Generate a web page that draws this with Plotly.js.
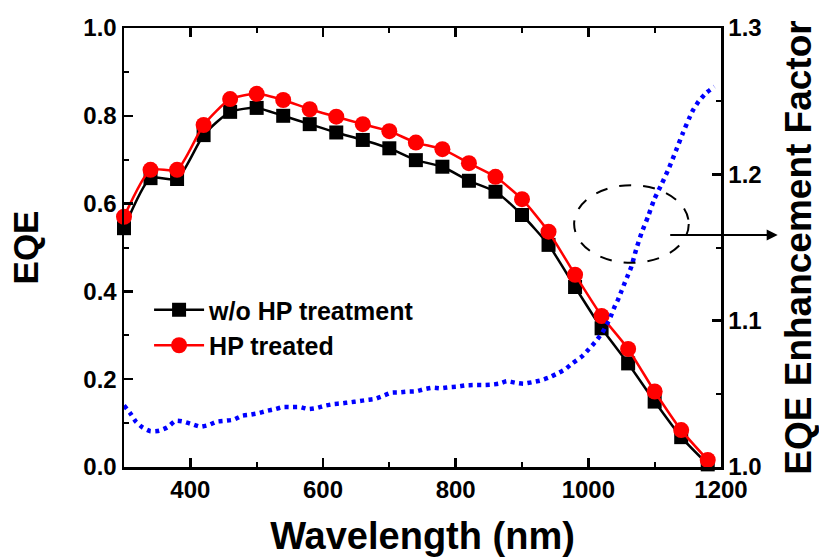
<!DOCTYPE html>
<html>
<head>
<meta charset="utf-8">
<script src="https://cdn.plot.ly/plotly-3.0.1.min.js"></script>
<style>html,body{margin:0;padding:0;background:#fff;}#chart{width:819px;height:557px;}</style>
</head>
<body>
<div id="chart"></div>
<script>
// EQE data
const wavelength = [300,340,380,420,460,500,540,580,620,660,700,740,780,820,860,900,940,980,1020,1060,1100,1140,1180];
const eqeWithout = [0.544,0.658,0.656,0.756,0.809,0.818,0.800,0.781,0.762,0.745,0.726,0.699,0.684,0.652,0.627,0.574,0.506,0.410,0.316,0.236,0.149,0.068,0.006];
const eqeTreated = [0.570,0.677,0.677,0.779,0.838,0.850,0.836,0.815,0.798,0.781,0.765,0.739,0.724,0.692,0.661,0.610,0.536,0.438,0.344,0.269,0.172,0.084,0.016];

// EQE enhancement factor (right axis)
const enhWavelength = [300,309,318,328,340,353,365,378,390,403,415,428,440,453,465,478,490,502,515,528,540,553,565,578,590,603,616,628,641,653,666,678,690,703,715,727,740,752,765,777,790,802,815,828,840,852,865,877,890,902,915,927,940,952,965,976,990,1001,1012,1021,1028,1034,1039,1045,1050,1055,1060,1065,1072,1080,1090,1099,1111,1122,1132,1142,1152,1158,1166,1177,1190];
const enhFactor = [1.042,1.037,1.031,1.027,1.0244,1.0248,1.027,1.0316,1.031,1.0292,1.0275,1.0287,1.031,1.0316,1.0323,1.035,1.0357,1.0367,1.0383,1.0396,1.041,1.041,1.041,1.0396,1.0403,1.0419,1.043,1.0435,1.0442,1.0449,1.0458,1.0465,1.0485,1.0508,1.051,1.0515,1.0517,1.0531,1.0542,1.0538,1.0545,1.0549,1.0558,1.056,1.056,1.0562,1.0569,1.0586,1.0576,1.0569,1.0579,1.059,1.061,1.0636,1.0668,1.0709,1.0754,1.0806,1.0863,1.0918,1.0975,1.1032,1.1089,1.1146,1.1203,1.126,1.1314,1.1371,1.1485,1.1597,1.1711,1.1825,1.1938,1.2048,1.2161,1.2276,1.2383,1.244,1.2497,1.2554,1.2599];

const seriesNames = ['w/o HP treatment', 'HP treated'];
const xTitle = 'Wavelength (nm)';
const yTitle = 'EQE';
const y2Title = 'EQE Enhancement Factor';

const FONT = 'Arial, "Liberation Sans", sans-serif';

const traces = [
  {
    x: wavelength, y: eqeWithout, name: seriesNames[0], type: 'scatter', mode: 'lines+markers',
    line: {color: '#000000', width: 2.5, shape: 'spline', smoothing: 0.6},
    marker: {symbol: 'square', size: 14, color: '#000000'},
    cliponaxis: false
  },
  {
    x: wavelength, y: eqeTreated, name: seriesNames[1], type: 'scatter', mode: 'lines+markers',
    line: {color: '#ff0000', width: 2.5, shape: 'spline', smoothing: 0.6},
    marker: {symbol: 'circle', size: 16, color: '#ff0000'},
    cliponaxis: false
  },
  {
    x: enhWavelength, y: enhFactor, yaxis: 'y2', type: 'scatter', mode: 'lines', showlegend: false,
    line: {color: '#0000ff', width: 4.5, dash: '4px,4.5px', shape: 'spline', smoothing: 0.5},
    hoverinfo: 'skip'
  }
];

const axisCommon = {
  showline: true, linecolor: '#000', linewidth: 2.5,
  ticks: 'inside', ticklen: 9, tickwidth: 2.5, tickcolor: '#000',
  showgrid: false, zeroline: false,
  tickfont: {family: FONT, size: 24, color: '#000', weight: 'bold'}
};

const layout = {
  width: 819, height: 557,
  margin: {l: 124, r: 98, t: 28, b: 90, pad: 0},
  paper_bgcolor: '#fff', plot_bgcolor: '#fff',
  showlegend: true,
  legend: {
    x: 0.042, y: 0.41, xanchor: 'left', yanchor: 'top',
    bgcolor: 'rgba(0,0,0,0)', borderwidth: 0,
    font: {family: FONT, size: 25, color: '#000', weight: 'bold'},
    itemwidth: 50, tracegroupgap: 0
  },
  xaxis: Object.assign({}, axisCommon, {
    range: [300, 1200], dtick: 200, tick0: 0, mirror: 'ticks',
    minor: {dtick: 100, ticks: 'inside', ticklen: 5, tickwidth: 2, tickcolor: '#000'},
    title: {text: xTitle, font: {family: FONT, size: 38, color: '#000', weight: 'bold'}, standoff: 22}
  }),
  yaxis: Object.assign({}, axisCommon, {
    range: [0, 1], dtick: 0.2, tickformat: '.1f', mirror: false,
    minor: {dtick: 0.1, ticks: 'inside', ticklen: 5, tickwidth: 2, tickcolor: '#000'},
    title: {text: yTitle, font: {family: FONT, size: 35, color: '#000', weight: 'bold'}, standoff: 34}
  }),
  yaxis2: Object.assign({}, axisCommon, {
    range: [1.0, 1.3], dtick: 0.1, tickformat: '.1f', overlaying: 'y', side: 'right',
    minor: {dtick: 0.05, ticks: 'inside', ticklen: 5, tickwidth: 2, tickcolor: '#000'},
    title: {text: y2Title, font: {family: FONT, size: 37, color: '#000', weight: 'bold'}, standoff: 28}
  }),
  shapes: [
    {type: 'circle', xref: 'paper', yref: 'paper', x0: 0.754, x1: 0.946, y0: 0.465, y1: 0.642,
     line: {color: '#000', width: 2, dash: '12px,12px'}}
  ],
  annotations: [
    {xref: 'paper', yref: 'paper', x: 1.095, y: 0.5285, axref: 'pixel', ayref: 'pixel',
     ax: -109, ay: 0, showarrow: true, arrowhead: 2, arrowsize: 1.1, arrowwidth: 2, arrowcolor: '#000', text: ''}
  ]
};

Plotly.newPlot('chart', traces, layout, {displayModeBar: false, staticPlot: true});
</script>
</body>
</html>
